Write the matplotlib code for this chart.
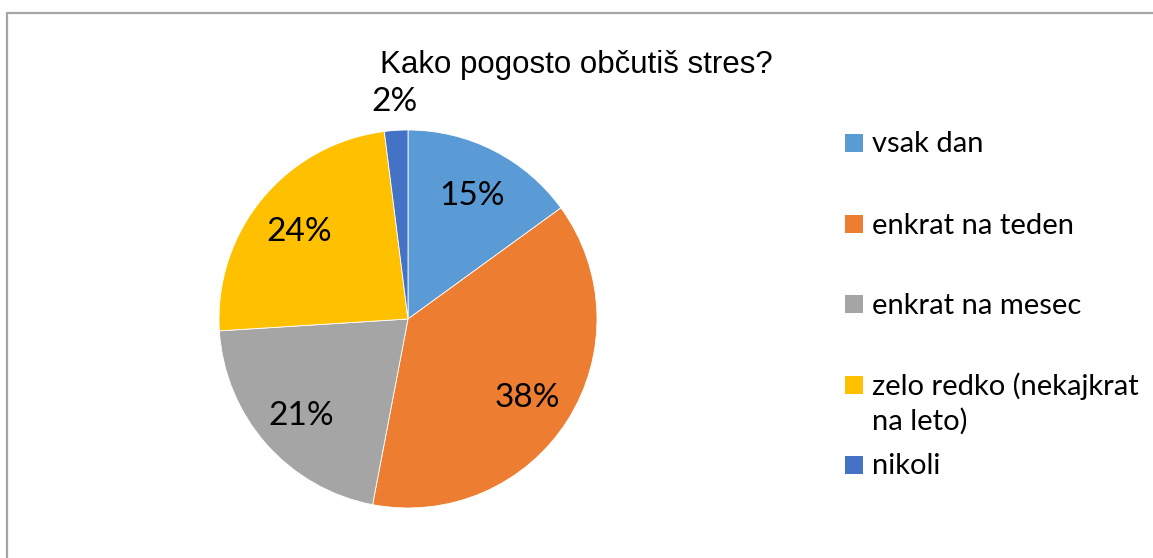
import numpy as np
import matplotlib
matplotlib.use("Agg")
import matplotlib.pyplot as plt
from matplotlib.patches import Rectangle

# Kako pogosto občutiš stres? (deleži v %)
categories = ["vsak dan", "enkrat na teden", "enkrat na mesec",
              "zelo redko (nekajkrat\nna leto)", "nikoli"]
shares = [15, 38, 21, 24, 2]
colors = ["#5B9BD5", "#ED7D31", "#A5A5A5", "#FFC000", "#4472C4"]
title = "Kako pogosto občutiš stres?"

W, H = 1153, 558
fig = plt.figure(figsize=(W / 100, H / 100), dpi=100)

# overlay in pixel coords (y down) for frame, title and legend
over = fig.add_axes([0, 0, 1, 1])
over.set_xlim(0, W)
over.set_ylim(H, 0)
over.axis("off")
over.plot([7, 7, W], [H, 13, 13], color="#A6A6A6", lw=1.6, solid_joinstyle="miter")
over.text(576, 73, title, family="Liberation Sans", fontsize=22.5,
          ha="center", va="baseline", color="#000000")

# pie
cx, cy, r = 408, 319, 189
ax = fig.add_axes([(cx - r) / W, (H - cy - r) / H, 2 * r / W, 2 * r / H])
wedges, texts, autotexts = ax.pie(
    shares, colors=colors, startangle=90, counterclock=False,
    autopct="%1.0f%%", pctdistance=0.75,
    wedgeprops=dict(edgecolor="white", linewidth=0.6),
    textprops=dict(family="Lato", fontsize=24, color="#000000"))
ax.set_xlim(-1, 1)
ax.set_ylim(-1, 1)
for t in autotexts:
    t.set_va("center_baseline")

# the small slice gets its label outside
w = wedges[-1]
mid = np.deg2rad((w.theta1 + w.theta2) / 2)
autotexts[-1].set_position((1.165 * np.cos(mid), 1.165 * np.sin(mid)))

# legend (wrapped entries hang below their marker)
ys = [143, 224, 304, 385, 465]
for lab, col, y in zip(categories, colors, ys):
    over.add_patch(Rectangle((845, y - 9), 18, 18, facecolor=col, edgecolor="none"))
    for k, line in enumerate(lab.split("\n")):
        over.text(872, y + 9.5 + k * 35, line, family="Lato", fontsize=21,
                  ha="left", va="baseline", color="#000000")

fig.savefig("out.png", dpi=100)
